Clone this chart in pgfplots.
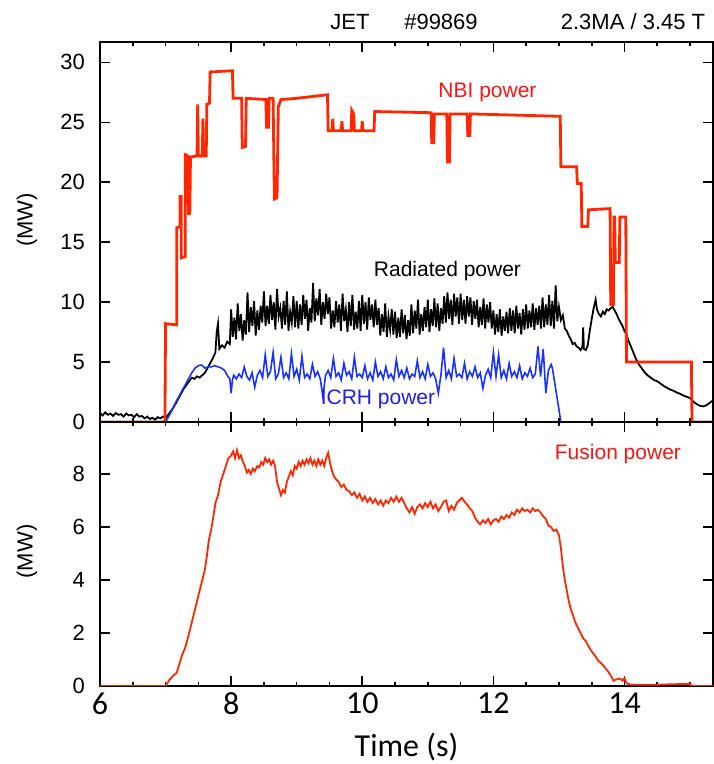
\documentclass[border=0pt]{standalone}
\usepackage{fontspec}
\setmainfont{Liberation Sans}
\newfontfamily\calibri{Carlito}
\usepackage{pgfplots}
\pgfplotsset{compat=1.18}

\definecolor{nbired}{RGB}{255,38,0}
\definecolor{txtred}{RGB}{250,20,20}
\definecolor{icrhblue}{RGB}{25,50,255}
\definecolor{txtblue}{RGB}{30,30,230}

\pgfplotsset{
  jetpanel/.style={
    scale only axis, anchor=south west,
    width=306.5pt,
    xmin=6, xmax=15.35,
    xtick={6,8,10,12,14},
    minor xtick={6.5,7,7.5,8.5,9,9.5,10.5,11,11.5,12.5,13,13.5,14.5,15},
    tick align=inside,
    major tick length=5pt, minor tick length=2.2pt,
    axis line style={line width=0.8pt},
    every tick/.style={black, line width=0.8pt},
    /pgf/number format/assume math mode=true,
    yticklabel style={font=\fontsize{11}{13}\selectfont, xshift=-4pt},
    clip=true,
  }
}

\begin{document}
\begin{tikzpicture}
\useasboundingbox (0,0) rectangle (356.5pt,382pt);

% header
\node[anchor=base, font=\fontsize{11}{13}\selectfont] at (175pt,367pt) {JET};
\node[anchor=base, font=\fontsize{11}{13}\selectfont] at (220.5pt,367pt) {\#99869};
\node[anchor=base, font=\fontsize{11}{13}\selectfont] at (316.5pt,367pt) {2.3MA / 3.45 T};

% y labels
\node[rotate=90, font=\fontsize{11}{13}\selectfont] at (13.5pt,272pt) {(MW)};
\node[rotate=90, font=\fontsize{11}{13}\selectfont] at (13.5pt,106.25pt) {(MW)};
\node[anchor=base, font=\calibri\fontsize{16}{18}\selectfont] at (203.25pt,4pt) {Time (s)};

% ---------- top panel ----------
\begin{axis}[jetpanel,
  at={(50pt,171pt)}, height=190pt,
  ymin=0, ymax=31.7,
  ytick={0,5,...,30},
  xticklabels={},
]
% radiated power
\addplot[black, line width=0.9pt] coordinates {
(6.00,0.75)(6.04,0.55)(6.08,0.8)(6.12,0.6)(6.16,0.7)(6.20,0.5)(6.24,0.75)(6.28,0.6)(6.32,0.65)(6.36,0.45)
(6.40,0.7)(6.44,0.55)(6.48,0.6)(6.52,0.4)(6.56,0.65)(6.60,0.45)(6.64,0.5)(6.68,0.3)(6.72,0.45)(6.76,0.25)
(6.80,0.35)(6.84,0.2)(6.88,0.4)(6.92,0.3)(6.96,0.45)(7.00,0.35)(7.04,0.6)(7.08,0.9)(7.12,1.2)(7.16,1.6)
(7.20,2.0)(7.24,2.4)(7.28,2.8)(7.32,3.1)(7.36,3.4)(7.40,3.7)(7.44,3.6)(7.48,3.8)(7.52,3.7)(7.56,3.9)
(7.60,4.1)(7.64,4.5)(7.68,4.9)(7.72,5.3)(7.76,5.8)(7.78,7.5)(7.80,8.2)(7.82,6.1)(7.86,6.4)(7.90,6.2)
(7.94,6.7)(7.98,6.5)
(8.000,9.4)(8.025,7.1)(8.050,8.7)(8.075,6.9)(8.100,9.9)(8.125,7.6)(8.150,9.0)(8.175,6.8)(8.200,8.5)(8.225,7.3)
(8.250,10.8)(8.275,7.5)(8.300,9.6)(8.325,8.0)(8.350,10.1)(8.375,7.2)(8.400,9.3)(8.425,7.7)(8.450,9.7)(8.475,8.3)
(8.500,10.9)(8.525,8.0)(8.550,9.7)(8.575,8.2)(8.600,10.6)(8.625,8.5)(8.650,10.0)(8.675,7.7)(8.700,11.1)(8.725,8.8)
(8.750,9.5)(8.775,7.8)(8.800,10.1)(8.825,8.1)(8.850,10.9)(8.875,7.6)(8.900,9.2)(8.925,8.3)(8.950,10.5)(8.975,7.9)
(9.000,10.1)(9.025,7.8)(9.050,9.8)(9.075,8.1)(9.100,10.6)(9.125,8.6)(9.150,10.2)(9.175,7.6)(9.200,9.5)(9.225,8.3)
(9.250,11.6)(9.275,8.4)(9.300,10.3)(9.325,8.9)(9.350,11.1)(9.375,8.1)(9.400,10.0)(9.425,8.6)(9.450,10.7)(9.475,9.0)
(9.500,10.4)(9.525,7.8)(9.550,9.3)(9.575,7.9)(9.600,10.1)(9.625,8.3)(9.650,9.8)(9.675,7.6)(9.700,10.7)(9.725,8.4)
(9.750,9.4)(9.775,7.5)(9.800,10.0)(9.825,8.0)(9.850,10.6)(9.875,7.7)(9.900,9.2)(9.925,7.8)(9.950,10.1)(9.975,7.6)
(10.000,10.6)(10.025,8.2)(10.050,10.0)(10.075,7.7)(10.100,10.4)(10.125,8.5)(10.150,9.8)(10.175,7.9)(10.200,10.2)(10.225,8.1)
(10.250,9.5)(10.275,7.2)(10.300,9.0)(10.325,7.5)(10.350,9.9)(10.375,7.1)(10.400,8.8)(10.425,7.7)(10.450,9.4)(10.475,7.3)
(10.500,9.2)(10.525,7.0)(10.550,8.7)(10.575,7.1)(10.600,9.4)(10.625,7.4)(10.650,8.9)(10.675,6.9)(10.700,8.5)(10.725,7.2)
(10.750,9.8)(10.775,7.4)(10.800,9.3)(10.825,7.8)(10.850,10.2)(10.875,7.3)(10.900,9.0)(10.925,7.6)(10.950,9.6)(10.975,7.9)
(11.000,10.2)(11.025,7.5)(11.050,9.4)(11.075,8.0)(11.100,10.3)(11.125,7.9)(11.150,9.9)(11.175,7.6)(11.200,9.5)(11.225,8.2)
(11.250,10.5)(11.275,8.3)(11.300,10.8)(11.325,8.6)(11.350,10.2)(11.375,8.1)(11.400,10.7)(11.425,8.8)(11.450,10.4)(11.475,8.2)
(11.500,10.7)(11.525,8.5)(11.550,10.2)(11.575,8.2)(11.600,10.5)(11.625,8.8)(11.650,10.4)(11.675,8.1)(11.700,10.1)(11.725,8.6)
(11.750,10.2)(11.775,7.9)(11.800,9.6)(11.825,8.1)(11.850,10.3)(11.875,7.8)(11.900,9.8)(11.925,8.3)(11.950,10.0)(11.975,7.8)
(12.000,9.3)(12.025,7.3)(12.050,9.0)(12.075,7.5)(12.100,9.4)(12.125,7.2)(12.150,8.8)(12.175,7.6)(12.200,9.2)(12.225,7.4)
(12.250,9.5)(12.275,7.6)(12.300,9.3)(12.325,7.4)(12.350,9.7)(12.375,7.8)(12.400,9.1)(12.425,7.3)(12.450,9.4)(12.475,7.7)
(12.500,9.8)(12.525,7.8)(12.550,9.3)(12.575,7.9)(12.600,9.9)(12.625,7.7)(12.650,9.5)(12.675,8.1)(12.700,9.7)(12.725,7.8)
(12.750,10.4)(12.775,7.9)(12.800,9.8)(12.825,8.1)(12.850,10.6)(12.875,8.0)(12.900,10.1)(12.925,7.8)(12.950,11.4)(12.975,8.4)
(13.00,9.6)(13.03,8.5)(13.06,8.9)(13.09,7.8)(13.12,7.6)(13.15,7.2)(13.18,6.9)(13.21,6.5)(13.24,6.6)(13.27,6.3)
(13.30,6.2)(13.33,6.0)(13.36,6.3)(13.37,7.9)(13.38,6.1)(13.41,6.0)(13.44,6.4)(13.47,7.6)(13.50,8.6)(13.53,9.5)
(13.56,10.2)(13.58,9.4)(13.61,9.0)(13.64,8.8)(13.67,9.2)(13.70,9.0)(13.73,9.4)(13.76,9.3)(13.79,9.5)(13.82,9.6)
(13.85,9.3)(13.88,9.0)(13.91,8.6)(13.94,8.3)(13.97,8.0)(14.00,7.6)(14.03,7.3)(14.06,6.8)(14.09,6.4)(14.12,6.0)
(14.15,5.6)(14.18,5.2)(14.22,4.8)(14.26,4.5)(14.30,4.2)(14.35,3.9)(14.40,3.7)(14.45,3.5)(14.50,3.4)(14.55,3.2)
(14.60,3.0)(14.65,2.85)(14.70,2.7)(14.75,2.6)(14.80,2.45)(14.85,2.35)(14.90,2.2)(14.95,2.1)(15.00,2.0)(15.05,1.7)
(15.10,1.5)(15.15,1.35)(15.20,1.3)(15.25,1.4)(15.30,1.6)(15.35,1.8)
};
% ICRH power
\addplot[icrhblue, line width=0.8pt] coordinates {
(6.00,0)(7.00,0)(7.05,0.5)(7.10,1.0)(7.15,1.6)(7.20,2.1)(7.25,2.6)(7.30,3.1)(7.35,3.6)(7.40,4.1)
(7.45,4.5)(7.50,4.7)(7.55,4.75)(7.60,4.5)(7.65,4.6)(7.70,4.6)(7.75,4.7)(7.80,4.6)(7.85,4.5)(7.90,4.3)
(7.95,3.8)(7.98,3.6)(8.00,2.4)(8.02,3.5)
(8.04,3.9)(8.08,3.6)(8.12,4.0)(8.16,3.7)(8.20,4.6)(8.24,3.8)(8.28,3.5)(8.32,4.1)(8.36,2.9)(8.40,3.9)
(8.44,4.3)(8.48,3.7)(8.52,5.6)(8.56,3.8)(8.60,4.2)(8.64,5.8)(8.68,3.6)(8.72,4.0)(8.76,5.4)(8.80,3.7)
(8.84,4.1)(8.88,3.6)(8.92,5.7)(8.96,3.8)(9.00,4.4)(9.04,3.5)(9.08,5.5)(9.12,3.7)(9.16,4.0)(9.20,3.6)
(9.24,4.8)(9.28,3.8)(9.32,4.2)(9.36,3.6)(9.40,2.1)(9.44,3.9)(9.48,4.3)(9.52,3.7)(9.56,5.3)(9.60,3.8)
(9.64,4.1)(9.68,3.5)(9.72,4.9)(9.76,3.9)(9.80,4.2)(9.84,3.6)(9.88,5.4)(9.92,3.8)(9.96,4.0)(10.00,3.7)
(10.04,4.7)(10.08,3.6)(10.12,4.1)(10.16,3.5)(10.20,5.0)(10.24,3.8)(10.28,4.2)(10.32,3.6)(10.36,4.6)(10.40,3.7)
(10.44,4.0)(10.48,3.5)(10.52,5.2)(10.56,3.8)(10.60,4.3)(10.64,3.7)(10.68,4.5)(10.72,3.6)(10.76,4.0)(10.80,3.8)
(10.84,5.1)(10.88,3.7)(10.92,4.2)(10.96,3.6)(11.00,4.8)(11.04,3.8)(11.08,4.1)(11.12,3.6)(11.16,2.4)(11.20,3.9)
(11.24,6.2)(11.28,3.7)(11.32,4.3)(11.36,3.6)(11.40,5.3)(11.44,3.8)(11.48,4.0)(11.52,3.7)(11.56,4.9)(11.60,3.6)
(11.64,4.2)(11.68,3.8)(11.72,4.6)(11.76,3.7)(11.80,4.1)(11.84,2.8)(11.88,3.9)(11.92,4.4)(11.96,3.7)(12.00,5.8)
(12.04,3.8)(12.08,5.6)(12.12,3.7)(12.16,4.3)(12.20,3.6)(12.24,4.9)(12.28,3.8)(12.32,4.2)(12.36,3.7)(12.40,4.7)
(12.44,3.6)(12.48,4.1)(12.52,3.8)(12.56,4.5)(12.60,3.7)(12.64,4.0)(12.68,6.3)(12.72,3.8)(12.76,6.1)(12.80,2.4)
(12.84,4.3)(12.88,4.8)(12.90,4.5)(13.03,0)(15.35,0)
};
% NBI power
\addplot[nbired, line width=1.4pt] coordinates {
(6.00,0)(6.99,0)(7.00,8.2)(7.17,8.1)(7.17,16.2)(7.22,16.3)(7.22,18.8)(7.24,18.8)(7.24,13.7)(7.30,13.8)
(7.30,22.3)(7.34,22.2)(7.35,17.4)(7.37,17.4)(7.38,22.1)(7.48,22.2)(7.49,26.5)(7.50,22.2)(7.56,22.2)(7.57,25.3)
(7.58,22.2)(7.62,22.2)(7.63,26.5)(7.67,26.6)(7.68,29.2)(8.02,29.3)(8.03,27.0)(8.16,27.0)(8.17,22.9)(8.22,23.0)
(8.23,27.0)(8.53,26.9)(8.54,24.6)(8.57,24.6)(8.58,27.0)(8.64,27.0)(8.66,18.6)(8.70,18.7)(8.72,26.3)(8.76,26.9)
(9.00,27.0)(9.47,27.3)(9.48,24.3)(9.54,24.3)(9.55,25.3)(9.56,24.3)(9.68,24.3)(9.69,25.1)(9.70,24.3)(9.83,24.3)
(9.84,26.0)(9.87,25.7)(9.88,24.3)(9.99,24.3)(10.00,25.1)(10.01,24.3)(10.18,24.3)(10.19,25.9)(11.05,25.8)(11.06,23.3)
(11.09,23.3)(11.10,25.7)(11.29,25.7)(11.30,21.7)(11.33,21.7)(11.34,25.7)(11.60,25.7)(11.61,23.9)(11.64,23.9)(11.65,25.7)
(13.02,25.5)(13.03,21.3)(13.27,21.3)(13.28,19.9)(13.34,19.9)(13.35,16.3)(13.44,16.3)(13.45,17.7)(13.78,17.8)(13.79,9.8)
(13.83,9.8)(13.84,17.1)(13.85,17.1)(13.86,13.3)(13.92,13.3)(13.93,17.1)(14.02,17.1)(14.03,5.0)(15.02,5.0)(15.03,0)
(15.35,0)
};
\node[txtred, font=\fontsize{10.5}{12}\selectfont] at (axis cs:11.91,27.5) {NBI power};
\node[black, font=\fontsize{10.5}{12}\selectfont] at (axis cs:11.30,12.6) {Radiated power};
\node[txtblue, font=\fontsize{10.5}{12}\selectfont] at (axis cs:10.24,1.9) {ICRH power};
\end{axis}

% ---------- bottom panel ----------
\begin{axis}[jetpanel,
  at={(50pt,39pt)}, height=132pt,
  ymin=0, ymax=9.96,
  ytick={0,2,...,8},
  xticklabel style={font=\calibri\fontsize{16}{18}\selectfont},
]
\addplot[black, line width=1.2pt] coordinates {(14.46,0)(15.35,0)};
\addplot[nbired, line width=0.9pt] coordinates {
(6.00,0)(7.00,0)(7.05,0.2)(7.10,0.35)(7.17,0.5)(7.22,0.9)(7.25,1.15)(7.30,1.45)(7.35,1.9)(7.40,2.4)
(7.45,2.9)(7.50,3.4)(7.55,3.9)(7.60,4.4)(7.63,4.9)(7.66,5.5)(7.70,5.95)(7.73,6.4)(7.76,6.9)(7.80,7.2)
(7.84,7.7)(7.88,8.0)(7.92,8.3)(7.96,8.6)(8.00,8.7)(8.03,8.85)(8.06,8.6)(8.09,8.9)(8.12,8.6)(8.15,8.7)
(8.18,8.45)(8.21,8.3)(8.24,8.05)(8.27,8.15)(8.30,8.0)(8.33,8.2)(8.36,8.1)(8.40,8.3)(8.43,8.25)(8.46,8.45)
(8.49,8.35)(8.52,8.6)(8.55,8.45)(8.58,8.55)(8.61,8.35)(8.64,8.5)(8.67,8.3)(8.70,7.7)(8.73,7.45)(8.76,7.2)
(8.79,7.4)(8.82,7.3)(8.85,7.7)(8.88,7.9)(8.91,8.1)(8.94,7.95)(8.97,8.3)(9.00,8.2)(9.03,8.45)(9.06,8.3)
(9.09,8.5)(9.12,8.35)(9.15,8.55)(9.18,8.4)(9.21,8.6)(9.24,8.35)(9.27,8.5)(9.30,8.3)(9.33,8.55)(9.36,8.35)
(9.39,8.5)(9.42,8.3)(9.45,8.6)(9.48,8.8)(9.51,8.4)(9.54,8.1)(9.57,7.9)(9.60,7.8)(9.64,7.7)(9.68,7.5)
(9.72,7.6)(9.76,7.4)(9.80,7.35)(9.84,7.2)(9.88,7.3)(9.92,7.1)(9.96,7.25)(10.00,7.0)(10.04,7.15)(10.08,6.95)
(10.12,7.1)(10.16,6.9)(10.20,7.05)(10.24,6.85)(10.28,7.0)(10.32,6.8)(10.36,7.0)(10.40,6.9)(10.44,7.1)(10.48,6.95)
(10.52,7.15)(10.56,6.95)(10.60,7.1)(10.64,6.9)(10.68,6.7)(10.72,6.55)(10.76,6.75)(10.80,6.5)(10.84,6.75)(10.88,6.85)
(10.92,6.7)(10.96,6.9)(11.00,6.75)(11.04,6.95)(11.08,6.7)(11.12,6.85)(11.16,6.6)(11.20,6.75)(11.24,6.95)(11.28,7.0)
(11.32,6.6)(11.36,6.8)(11.40,6.65)(11.44,6.9)(11.48,7.0)(11.52,7.1)(11.56,6.95)(11.60,6.85)(11.64,6.7)(11.68,6.6)
(11.72,6.35)(11.76,6.2)(11.80,6.1)(11.84,6.25)(11.88,6.15)(11.92,6.3)(11.96,6.1)(12.00,6.25)(12.04,6.3)(12.08,6.2)
(12.12,6.4)(12.16,6.3)(12.20,6.45)(12.24,6.35)(12.28,6.55)(12.32,6.45)(12.36,6.65)(12.40,6.55)(12.44,6.7)(12.48,6.6)
(12.52,6.65)(12.56,6.55)(12.60,6.7)(12.64,6.6)(12.68,6.65)(12.72,6.55)(12.76,6.4)(12.80,6.3)(12.84,6.05)(12.88,6.0)
(12.92,5.85)(12.96,5.9)(13.00,5.7)(13.03,5.2)(13.06,4.5)(13.09,4.0)(13.12,3.6)(13.15,3.2)(13.18,2.9)(13.21,2.7)
(13.25,2.4)(13.29,2.2)(13.33,2.0)(13.37,1.8)(13.41,1.7)(13.45,1.5)(13.50,1.3)(13.55,1.15)(13.60,0.95)(13.65,0.85)
(13.70,0.7)(13.75,0.55)(13.80,0.35)(13.83,0.2)(13.88,0.25)(13.93,0.28)(13.97,0.2)(14.00,0.3)(14.03,0.1)(14.10,0.05)
(14.50,0.05)(14.80,0.07)(15.00,0.08)(15.02,0.0)(15.35,0.0)
};
\node[txtred, font=\fontsize{10.5}{12}\selectfont] at (axis cs:13.9,8.75) {Fusion power};
\end{axis}
\end{tikzpicture}
\end{document}
